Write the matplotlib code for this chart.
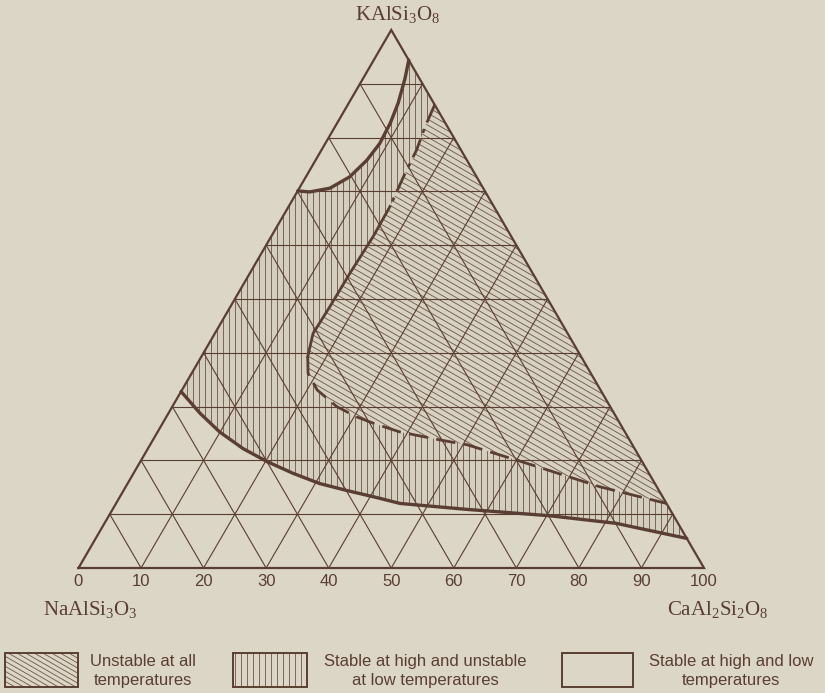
#!/usr/bin/env python3
# -*- coding: utf-8 -*-

"""
Diagrama ternário NaAlSi3O8 - KAlSi3O8 - CaAl2Si2O8
Campos de estabilidade dos feldspatos (três regiões + legenda).
"""

import numpy as np
import matplotlib.pyplot as plt
from matplotlib.patches import Polygon, Rectangle
from matplotlib.collections import LineCollection

# Curvas, em % molar: (An, Or); Ab = 100 - An - Or
upper_an = [0.0, 2.0, 4.9, 7.0, 8.2, 8.7, 8.5, 7.9, 6.7, 5.6]
upper_or = [70.1, 69.9, 70.6, 72.7, 75.8, 78.9, 82.7, 86.4, 91.0, 94.4]

dash_an = [13.9, 14.4, 15.2, 15.6, 16.2, 16.3, 16.0, 15.9, 15.7, 17.0, 18.6,
           21.6, 26.3, 30.4, 33.7, 38.7, 45.9, 50.7, 63.1, 75.8, 88.0]
dash_or = [86.1, 82.0, 77.7, 72.7, 67.2, 61.6, 54.8, 48.6, 43.6, 39.3, 36.2,
           33.1, 30.0, 28.1, 26.9, 25.3, 23.8, 22.9, 19.1, 15.1, 12.0]

lower_an = [0.0, 5.0, 9.9, 15.2, 20.2, 25.5, 30.7, 35.7, 41.1, 45.4, 56.6,
            70.6, 81.8, 94.5]
lower_or = [32.8, 28.8, 25.3, 22.2, 19.8, 17.6, 15.7, 14.4, 13.1, 12.0, 10.9,
            9.7, 8.3, 5.5]

tick_values = [0, 10, 20, 30, 40, 50, 60, 70, 80, 90, 100]
vertex_labels = [r"KAlSi$_3$O$_8$", r"NaAlSi$_3$O$_3$", r"CaAl$_2$Si$_2$O$_8$"]
legend_labels = ["Unstable at all\ntemperatures",
                 "Stable at high and unstable\nat low temperatures",
                 "Stable at high and low\ntemperatures"]

BG = "#dbd6c5"
INK = "#5a3e33"


def tern(an, orr):
    an = np.asarray(an, float) / 100.0
    orr = np.asarray(orr, float) / 100.0
    return an + orr / 2.0, orr


def px(x, y):
    # pixel da figura -> coordenadas do eixo
    return (x - 78.5) / 625.5, (568.0 - y) / 538.0


def hatch(ax, patch, kind, step, z=2):
    if kind == "v":
        segs = [[(x, -0.4), (x, 1.2)] for x in np.arange(-0.2, 1.3, step)]
    else:
        k = 0.671  # ~30 graus na tela
        segs = [[(-0.2, c + k * 0.2), (1.3, c - k * 1.3)]
                for c in np.arange(-1.2, 2.2, step)]
    lc = LineCollection(segs, colors=INK, linewidths=0.6, alpha=0.85, zorder=z)
    ax.add_collection(lc)
    lc.set_clip_path(patch)


def main():
    plt.rcParams["mathtext.default"] = "regular"

    fig = plt.figure(figsize=(8.25, 6.93), dpi=100)
    fig.patch.set_facecolor(BG)
    ax = fig.add_axes([0, 0, 1, 1])
    ax.set_xlim(px(0, 0)[0], px(825, 0)[0])
    ax.set_ylim(px(0, 693)[1], px(0, 0)[1])
    ax.axis("off")

    ux, uy = tern(upper_an, upper_or)
    dx, dy = tern(dash_an, dash_or)
    lx, ly = tern(lower_an, lower_or)

    # Regiões
    v_pts = np.vstack([np.column_stack([lx, ly]),
                       np.column_stack([dx, dy])[::-1],
                       np.column_stack([ux, uy])[::-1]])
    v_patch = Polygon(v_pts, closed=True, facecolor="#d3cebd", edgecolor="none", zorder=1)
    ax.add_patch(v_patch)
    hatch(ax, v_patch, "v", 6.0 / 625.5)

    d_patch = Polygon(np.column_stack([dx, dy]), closed=True, facecolor="#d6d1c0",
                      edgecolor="none", zorder=1)
    ax.add_patch(d_patch)
    hatch(ax, d_patch, "d", 6.0 / 538.0)

    # Grade de 10 %
    for k in range(10, 100, 10):
        for a, o in [([0, 100 - k], [k, k]), ([k, k], [0, 100 - k]),
                     ([100 - k, 0], [0, 100 - k])]:
            gx, gy = tern(a, o)
            ax.plot(gx, gy, color=INK, lw=0.8, zorder=3)

    # Curvas
    ax.plot(ux, uy, color=INK, lw=2.4, zorder=4, solid_capstyle="round")
    ax.plot(dx[:5], dy[:5], color=INK, lw=2.0, zorder=4, linestyle=(0, (7, 2.5, 1.5, 2.5)))
    ax.plot(dx[4:10], dy[4:10], color=INK, lw=2.0, zorder=4)
    ax.plot(dx[9:], dy[9:], color=INK, lw=2.0, zorder=4, linestyle=(0, (7, 3)))
    ax.plot(lx, ly, color=INK, lw=2.4, zorder=4, solid_capstyle="round")

    # Triângulo
    tx, ty = tern([0, 100, 0, 0], [0, 0, 100, 0])
    ax.plot(tx, ty, color=INK, lw=1.6, zorder=5, solid_joinstyle="miter")

    # Rótulos do eixo inferior
    for v in tick_values:
        x, _ = tern(v, 0)
        ax.text(x, px(0, 582)[1], str(v), ha="center", va="center",
                fontsize=12, color=INK, family="Liberation Sans")

    serif = dict(fontsize=15, color=INK, family="Liberation Serif")
    ax.text(*px(398, 20), vertex_labels[0], ha="center", va="baseline", **serif)
    ax.text(*px(43, 615), vertex_labels[1], ha="left", va="baseline", **serif)
    ax.text(*px(768, 615), vertex_labels[2], ha="right", va="baseline", **serif)

    # Legenda
    boxes = [(5, 78), (233, 307), (562, 633)]
    text_x = [143, 425, 731]
    kinds = ["d", "v", None]
    for (x0, x1), tx_, kind, lab in zip(boxes, text_x, kinds, legend_labels):
        bx0, by0 = px(x0, 687)
        bx1, by1 = px(x1, 653)
        rect = Rectangle((bx0, by0), bx1 - bx0, by1 - by0, facecolor=BG,
                         edgecolor=INK, lw=1.4, zorder=5)
        ax.add_patch(rect)
        if kind:
            hatch(ax, rect, kind, (6.0 / 625.5) if kind == "v" else 5.0 / 538.0, z=6)
        ax.text(*px(tx_, 671), lab, ha="center", va="center", fontsize=12,
                color=INK, family="Liberation Sans", linespacing=1.3)

    fig.savefig("out.png", dpi=100, facecolor=BG)
    plt.close(fig)


if __name__ == "__main__":
    main()
